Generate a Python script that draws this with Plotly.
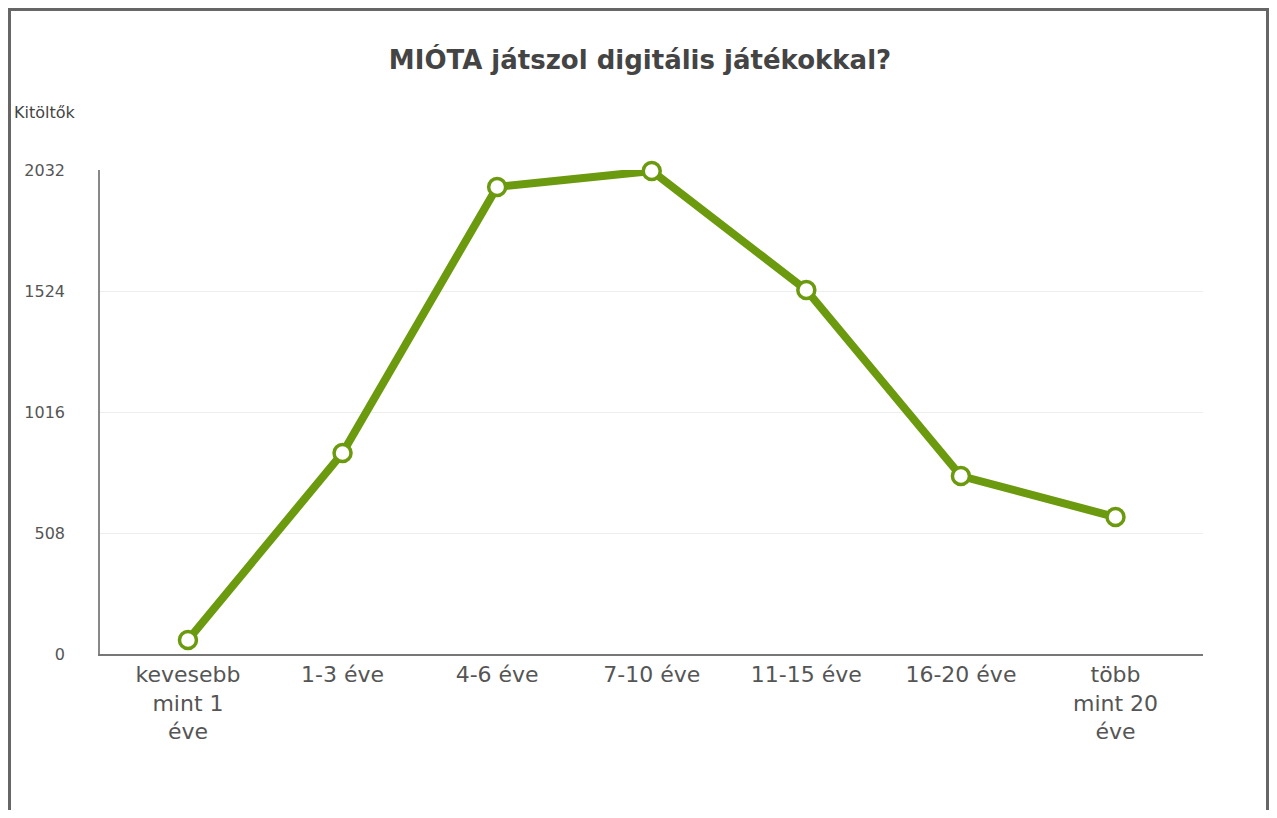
import plotly.graph_objects as go

categories = ["kevesebb<br>mint 1<br>éve", "1-3 éve", "4-6 éve", "7-10 éve",
              "11-15 éve", "16-20 éve", "több<br>mint 20<br>éve"]
values = [59, 844, 1961, 2028, 1528, 747, 575]
tick_vals = [0, 508, 1016, 1524, 2032]

GREEN = "#6b9a0e"
OFF = 8  # page offset of the figure inside the browser window
W, H = 1277 - 2 * OFF, 818 - 2 * OFF
# plot area in window pixels: x 100..1203, y 170..654
L, R, T, B = 100 - OFF, (OFF + W) - 1203, 170 - OFF, (OFF + H) - 654
pw = W - L - R
ph = H - T - B

def px(x):  # window pixel -> paper x
    return (x - OFF - L) / pw

def py(y):  # window pixel -> paper y
    return (H - B - (y - OFF)) / ph

fig = go.Figure()
fig.add_trace(go.Scatter(
    x=list(range(len(categories))), y=values, mode="lines+markers",
    line=dict(color=GREEN, width=8),
    marker=dict(size=17, color="white", line=dict(color=GREEN, width=3.5)),
    cliponaxis=False, hoverinfo="x+y",
))

border = dict(color="#666", width=3)
fig.update_layout(
    width=W, height=H,
    margin=dict(l=L, r=R, t=T, b=B),
    paper_bgcolor="white", plot_bgcolor="white",
    showlegend=False,
    font=dict(family="DejaVu Sans", color="#555"),
    title=dict(text="<b>MIÓTA játszol digitális játékokkal?</b>",
               x=px(640), xanchor="center", xref="paper",
               y=1 - (60 - OFF) / H, yanchor="middle",
               font=dict(family="DejaVu Sans", size=26, color="#444")),
    xaxis=dict(
        tickmode="array", tickvals=list(range(len(categories))), ticktext=categories,
        range=[-0.569, 6.566], showgrid=False, zeroline=False,
        showline=True, linecolor="#777", linewidth=1.5,
        tickfont=dict(size=22, color="#555"), ticks="",
    ),
    yaxis=dict(
        tickmode="array", tickvals=tick_vals, ticktext=[str(v) for v in tick_vals],
        range=[0, 2032], showgrid=True, gridcolor="#eeeeee", gridwidth=1,
        zeroline=False, showline=True, linecolor="#888", linewidth=1.5,
        tickfont=dict(size=16, color="#555"), ticks="", ticklabelstandoff=30,
    ),
    shapes=[
        dict(type="line", xref="paper", yref="paper",
             x0=px(9.5), x1=px(9.5), y0=py(830), y1=py(9), line=border, layer="above"),
        dict(type="line", xref="paper", yref="paper",
             x0=px(1267.5), x1=px(1267.5), y0=py(830), y1=py(9), line=border, layer="above"),
        dict(type="line", xref="paper", yref="paper",
             x0=px(8), x1=px(1269), y0=py(9.5), y1=py(9.5), line=border, layer="above"),
    ],
    annotations=[dict(text="Kitöltők", xref="paper", yref="paper",
                      x=px(12), y=py(112), xanchor="left", yanchor="middle",
                      showarrow=False, font=dict(size=16, color="#444"))],
)

fig.write_html("out.html")
